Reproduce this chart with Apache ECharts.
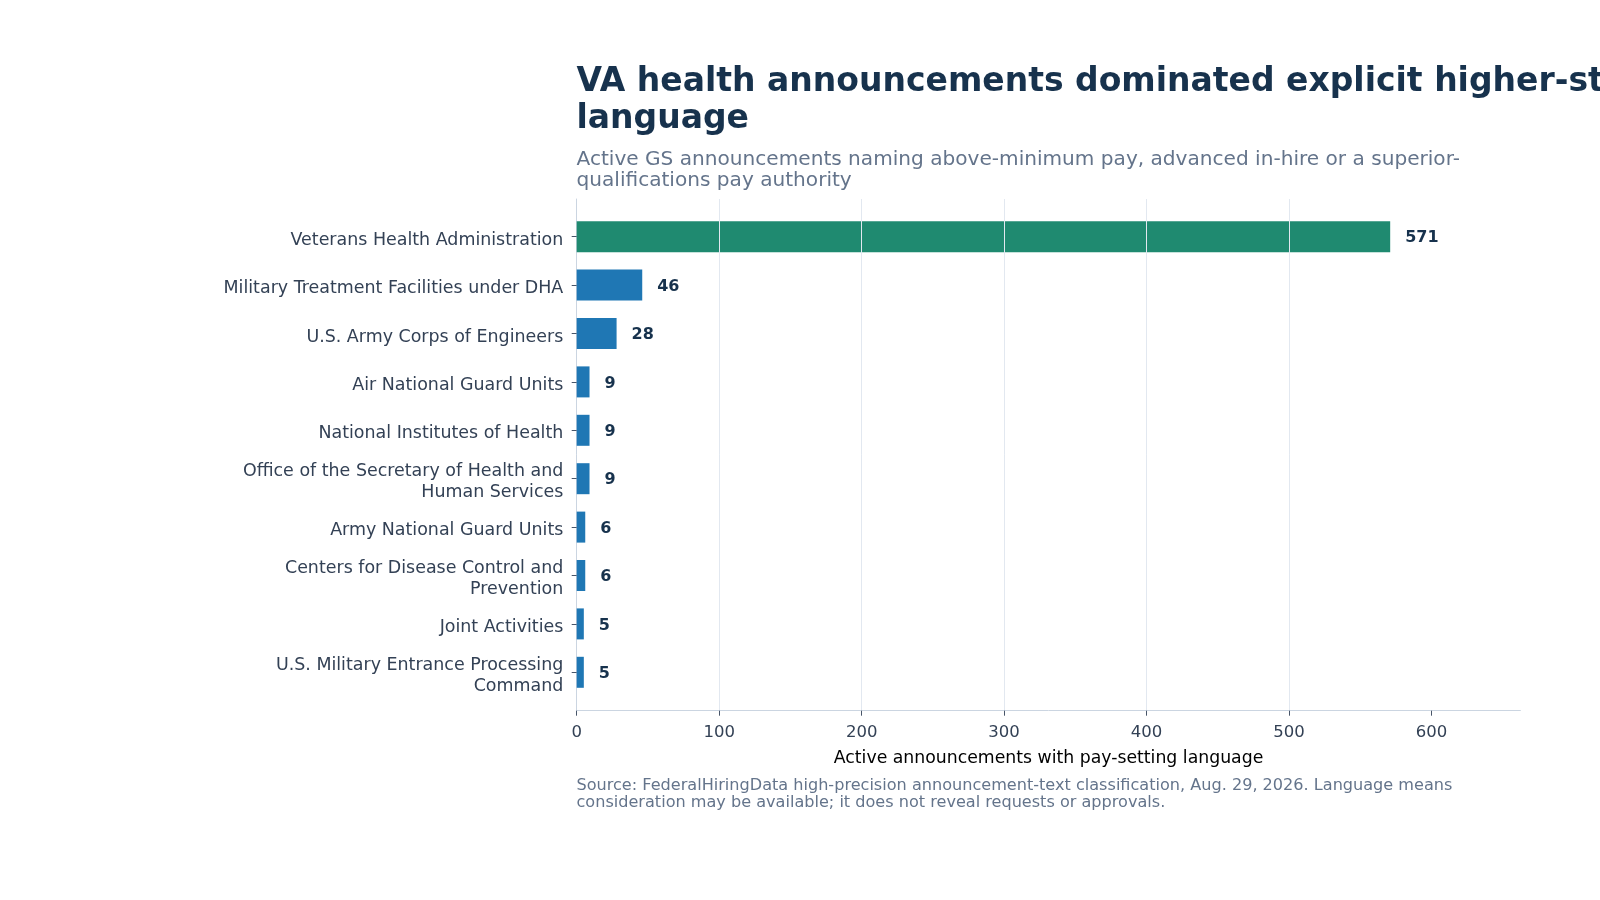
<!DOCTYPE html>
<html>
<head>
<meta charset="utf-8">
<script src="https://cdn.jsdelivr.net/npm/echarts@6/dist/echarts.min.js"></script>
<style>
  html, body { margin: 0; padding: 0; background: #fff; }
  #chart { width: 1600px; height: 900px; }
</style>
</head>
<body>
<div id="chart"></div>
<script>
// agencies, top to bottom
var categories = [
  'Veterans Health Administration',
  'Military Treatment Facilities under DHA',
  'U.S. Army Corps of Engineers',
  'Air National Guard Units',
  'National Institutes of Health',
  'Office of the Secretary of Health and\nHuman Services',
  'Army National Guard Units',
  'Centers for Disease Control and\nPrevention',
  'Joint Activities',
  'U.S. Military Entrance Processing\nCommand'
];
var values = [571, 46, 28, 9, 9, 9, 6, 6, 5, 5];
var xTicks = [0, 100, 200, 300, 400, 500, 600];
var xMax = 662.4;

var font = 'DejaVu Sans';
var green = '#1f8a70';
var blue = '#1f77b4';

var myChart = echarts.init(document.getElementById('chart'));

var option = {
  backgroundColor: '#fff',
  animation: false,
  textStyle: { fontFamily: font },
  title: [
    {
      text: 'VA health announcements dominated explicit higher-step pay\nlanguage',
      left: 576.5, top: 64, padding: 0,
      textStyle: { fontFamily: font, fontSize: 33, fontWeight: 'bold', color: '#17324d', lineHeight: 37 }
    },
    {
      text: 'Active GS announcements naming above-minimum pay, advanced in-hire or a superior-\nqualifications pay authority',
      left: 576.5, top: 150, padding: 0,
      textStyle: { fontFamily: font, fontSize: 20.1, fontWeight: 'normal', color: '#64748b', lineHeight: 20.5 }
    },
    {
      text: 'Source: FederalHiringData high-precision announcement-text classification, Aug. 29, 2026. Language means\nconsideration may be available; it does not reveal requests or approvals.',
      left: 576.5, top: 778, padding: 0,
      textStyle: { fontFamily: font, fontSize: 16.1, fontWeight: 'normal', color: '#64748b', lineHeight: 16.5 }
    }
  ],
  grid: [
    // bars + y ticks
    { left: 576.7, right: 79.6, top: 212.5, bottom: 203.5 },
    // frame, grid lines and x axis
    { left: 576.7, right: 79.6, top: 199, bottom: 189.3 },
    // y tick labels, sit a little lower than the ticks
    { left: 576.7, right: 79.6, top: 216, bottom: 200 }
  ],
  xAxis: [
    { gridIndex: 0, type: 'value', min: 0, max: xMax, show: false },
    {
      gridIndex: 1, type: 'value', min: 0, max: xMax, interval: 100, z: 5,
      name: 'Active announcements with pay-setting language',
      nameLocation: 'middle', nameGap: 39,
      nameTextStyle: { fontFamily: font, fontSize: 17.3, color: '#000' },
      axisLine: { show: true, lineStyle: { color: '#cbd5e1', width: 1 } },
      axisTick: { show: true, length: 5, customValues: xTicks, lineStyle: { color: '#475569' } },
      axisLabel: { customValues: xTicks, margin: 14, fontFamily: font, fontSize: 16.5, color: '#334155' },
      splitLine: { show: true, showMinLine: false, showMaxLine: false, lineStyle: { color: '#e2e8f0', width: 1 } }
    },
    { gridIndex: 2, type: 'value', min: 0, max: xMax, show: false }
  ],
  yAxis: [
    {
      gridIndex: 0, type: 'category', data: categories, inverse: true,
      axisLine: { show: false },
      axisTick: { show: true, alignWithLabel: true, length: 5, lineStyle: { color: '#475569' } },
      axisLabel: { show: false }
    },
    {
      gridIndex: 1, type: 'value', min: 0, max: 1,
      axisLine: { show: true, lineStyle: { color: '#cbd5e1', width: 1 } },
      axisTick: { show: false }, axisLabel: { show: false }, splitLine: { show: false }
    },
    {
      gridIndex: 2, type: 'category', data: categories, inverse: true,
      axisLine: { show: false }, axisTick: { show: false },
      axisLabel: {
        margin: 13.4, fontFamily: font, fontSize: 17.45, lineHeight: 20.5, color: '#334155', align: 'right'
      }
    }
  ],
  series: [
    {
      type: 'bar',
      xAxisIndex: 0, yAxisIndex: 0,
      barWidth: 31,
      data: values.map(function (v, i) {
        return { value: v, itemStyle: { color: i === 0 ? green : blue } };
      }),
      label: {
        show: true, position: 'right', distance: 15, offset: [0, 1.5],
        fontFamily: font, fontSize: 16, fontWeight: 'bold', color: '#17324d'
      }
    }
  ]
};

option && myChart.setOption(option);
</script>
</body>
</html>
